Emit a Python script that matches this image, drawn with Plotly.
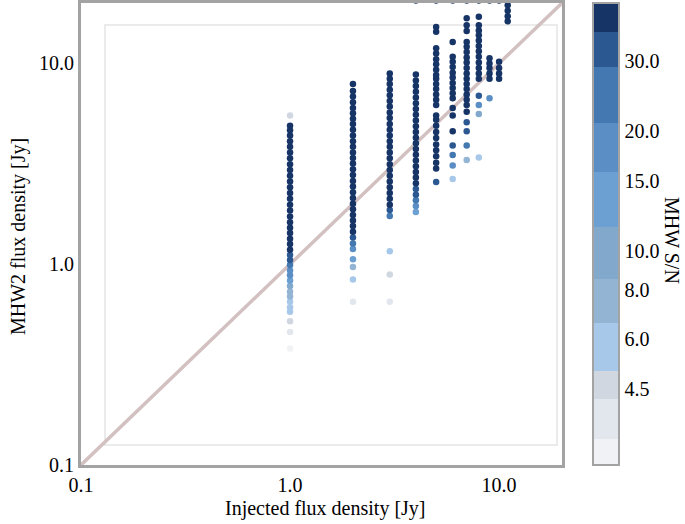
import numpy as np
import plotly.graph_objects as go

# ---------------- data ----------------
injected = [1.0, 2.0, 3.0, 4.0, 5.0, 6.0, 7.0, 8.0, 9.0, 10.0, 11.0]

flux_1 = [0.38, 0.46, 0.52, 0.58, 0.61, 0.65, 0.69, 0.73, 0.78, 0.83, 0.88, 0.93, 0.99,
          1.05, 1.11, 1.18, 1.26, 1.34, 1.43, 1.52, 1.62, 1.73, 1.85, 1.98, 2.12, 2.26,
          2.42, 2.58, 2.76, 2.95, 3.15, 3.37, 3.60, 3.85, 4.10, 4.38, 4.65, 4.90, 5.50]
snr_1 = [3.3, 4.0, 4.6, 5.4, 5.8, 6.4, 7.2, 8.2, 9.5, 12.0, 16.0, 20.0, 25.0,
         30.0, 34.0, 37.0, 39.0, 40.0, 41.0, 41.0, 40.0, 41.0, 41.0, 40.0, 41.0, 41.0,
         40.0, 41.0, 41.0, 40.0, 41.0, 41.0, 40.0, 41.0, 40.0, 40.0, 38.0, 36.0, 4.6]

flux_2 = [0.65, 0.84, 0.97, 1.06, 1.19, 1.27, 1.36, 1.45, 1.55, 1.65, 1.76, 1.88, 2.00,
          2.14, 2.28, 2.44, 2.60, 2.78, 2.97, 3.17, 3.38, 3.60, 3.85, 4.10, 4.38, 4.68,
          5.00, 5.30, 5.65, 6.00, 6.40, 6.85, 7.30, 7.90]
snr_2 = [4.2, 5.0, 7.0, 12.0, 20.0, 28.0, 34.0, 38.0, 40.0, 41.0, 40.0, 41.0, 41.0,
         40.0, 41.0, 40.0, 41.0, 41.0, 40.0, 41.0, 40.0, 41.0, 41.0, 40.0, 41.0, 40.0,
         39.0, 41.0, 40.0, 38.0, 41.0, 40.0, 39.0, 36.0]

flux_3 = [0.65, 0.89, 1.16, 1.74, 1.86, 1.98, 2.12, 2.26, 2.42, 2.58, 2.76, 2.95, 3.15,
          3.37, 3.60, 3.85, 4.10, 4.38, 4.68, 5.00, 5.35, 5.70, 6.10, 6.50, 6.95, 7.40,
          7.90, 8.40, 8.90]
snr_3 = [3.4, 4.4, 6.5, 24.0, 32.0, 37.0, 40.0, 41.0, 40.0, 41.0, 41.0, 40.0, 41.0,
         40.0, 41.0, 41.0, 40.0, 41.0, 40.0, 41.0, 41.0, 40.0, 41.0, 40.0, 41.0, 40.0,
         41.0, 39.0, 37.0]

flux_4 = [1.82, 1.95, 2.08, 2.22, 2.37, 2.53, 2.70, 2.88, 3.08, 3.29, 3.51, 3.75, 4.00,
          4.27, 4.56, 4.87, 5.20, 5.55, 5.93, 6.33, 6.76, 7.22, 7.71, 8.23, 8.80, 20.6]
snr_4 = [14.0, 19.0, 25.0, 30.0, 34.0, 37.0, 39.0, 40.0, 41.0, 40.0, 41.0, 41.0, 40.0,
         41.0, 40.0, 41.0, 41.0, 40.0, 41.0, 40.0, 41.0, 40.0, 41.0, 40.0, 38.0, 38.0]

flux_5 = [2.57, 3.00, 3.20, 3.45, 3.70, 3.95, 4.25, 4.55, 4.90, 5.25, 5.50, 6.20, 6.60,
          7.00, 7.45, 7.90, 8.40, 8.75, 9.30, 9.90, 10.50, 11.20, 11.90, 14.40, 15.20, 20.6]
snr_5 = [30.0, 36.0, 40.0, 41.0, 40.0, 41.0, 41.0, 40.0, 41.0, 40.0, 41.0, 40.0, 41.0,
         41.0, 40.0, 41.0, 40.0, 41.0, 41.0, 40.0, 41.0, 40.0, 41.0, 39.0, 38.0, 38.0]

flux_6 = [2.66, 3.10, 3.50, 3.90, 4.60, 5.50, 6.00, 6.70, 7.10, 7.55, 8.00, 8.50, 9.00,
          9.60, 10.20, 10.80, 12.80, 20.6]
snr_6 = [5.5, 18.0, 28.0, 34.0, 38.0, 40.0, 41.0, 41.0, 40.0, 41.0, 41.0, 40.0, 41.0,
         40.0, 41.0, 40.0, 38.0, 38.0]

flux_7 = [3.30, 3.90, 4.60, 5.10, 5.75, 6.20, 6.60, 7.00, 7.45, 7.90, 8.40, 8.90, 9.50,
          10.10, 10.70, 11.40, 12.10, 12.80, 14.50, 15.50, 16.80, 20.6]
snr_7 = [8.0, 22.0, 30.0, 35.0, 38.0, 40.0, 41.0, 40.0, 41.0, 41.0, 40.0, 41.0, 40.0,
         41.0, 41.0, 40.0, 41.0, 40.0, 39.0, 40.0, 37.0, 38.0]

flux_8 = [3.40, 5.60, 6.20, 6.90, 8.40, 8.90, 9.50, 10.10, 10.80, 11.50, 12.20, 13.00,
          13.80, 14.60, 15.50, 17.10, 20.6]
snr_8 = [6.0, 9.0, 20.0, 30.0, 40.0, 41.0, 40.0, 41.0, 41.0, 40.0, 41.0, 40.0,
         41.0, 40.0, 39.0, 37.0, 38.0]

flux_9 = [6.70, 8.40, 8.90, 9.50, 10.00, 10.60, 20.6]
snr_9 = [18.0, 38.0, 40.0, 41.0, 40.0, 38.0, 38.0]

flux_10 = [8.40, 8.90, 9.50, 10.20, 20.6]
snr_10 = [36.0, 40.0, 41.0, 38.0, 38.0]

flux_11 = [16.20, 17.20, 18.30, 19.50]
snr_11 = [36.0, 40.0, 41.0, 38.0]

one_to_one = [0.1, 20.0]

axis_ticks = [0.1, 1.0, 10.0]
axis_ticktext = ["0.1", "1.0", "10.0"]
snr_ticks = [4.5, 6.0, 8.0, 10.0, 15.0, 20.0, 30.0]
snr_ticktext = ["4.5", "6.0", "8.0", "10.0", "15.0", "20.0", "30.0"]
snr_min, snr_max = 2.9, 42.0

# ---------------- assemble ----------------
fluxes = [flux_1, flux_2, flux_3, flux_4, flux_5, flux_6, flux_7, flux_8, flux_9, flux_10, flux_11]
snrs = [snr_1, snr_2, snr_3, snr_4, snr_5, snr_6, snr_7, snr_8, snr_9, snr_10, snr_11]
xs, ys, cs = [], [], []
for inj, f, s in zip(injected, fluxes, snrs):
    xs += [inj] * len(f)
    ys += f
    cs += s
log_c = np.log10(cs)

# stepped colour scale (style)
band_edges = [2.9, 3.37, 4.25, 5.0, 6.6, 8.5, 11.5, 15.8, 21.0, 29.0, 35.5, 42.0]
band_cols = ['#f1f2f5', '#e2e6ed', '#d0d7e0', '#a7c8e8', '#93b5d3', '#82a8cb',
             '#6c9fd2', '#5a8ec4', '#4478b0', '#2c5892', '#163466']
lo, hi = np.log10(snr_min), np.log10(snr_max)
cscale = []
for i, col in enumerate(band_cols):
    a = (np.log10(band_edges[i]) - lo) / (hi - lo)
    b = (np.log10(band_edges[i + 1]) - lo) / (hi - lo)
    cscale.append([max(0.0, min(1.0, a)), col])
    cscale.append([max(0.0, min(1.0, b)), col])
cscale[0][0] = 0.0
cscale[-1][0] = 1.0

FONT = "Liberation Serif"
W, H = 685, 524
L, R, T, B = 81, 562, 3, 465  # plot area in px

def px_x(p):
    return (p - L) / (R - L)

def px_y(p):
    return (B - p) / (B - T)

fig = go.Figure()
fig.add_trace(go.Scatter(x=one_to_one, y=one_to_one, mode="lines",
                         line=dict(color="#d3c1c1", width=3.5),
                         showlegend=False, hoverinfo="skip"))
fig.add_trace(go.Scatter(
    x=xs, y=ys, mode="markers", showlegend=False,
    marker=dict(size=6.5, color=log_c, colorscale=cscale, cmin=lo, cmax=hi,
                line=dict(width=0),
                colorbar=dict(x=px_x(593), xanchor="left", xpad=0, ypad=0,
                              y=0.5, yanchor="middle", len=1.0, lenmode="fraction",
                              thickness=26, thicknessmode="pixels",
                              outlinecolor="#a3a3a3", outlinewidth=2,
                              tickvals=np.log10(snr_ticks).tolist(), ticktext=snr_ticktext,
                              ticks="", tickfont=dict(family=FONT, size=20, color="black"))),
))

axis_common = dict(type="log", range=[np.log10(0.1), np.log10(20.0)],
                   tickvals=axis_ticks, ticktext=axis_ticktext,
                   showgrid=False, zeroline=False, showline=True, mirror=True,
                   linecolor="#a3a3a3", linewidth=3, ticks="", automargin=False,
                   tickfont=dict(family=FONT, size=20, color="black"))

fig.update_layout(
    width=W, height=H,
    margin=dict(l=L, r=W - R, t=T, b=H - B, pad=0),
    paper_bgcolor="white", plot_bgcolor="white",
    xaxis=axis_common, yaxis=axis_common,
    font=dict(family=FONT, size=20, color="black"),
    shapes=[dict(type="rect", xref="paper", yref="paper",
                 x0=px_x(105), x1=px_x(557), y0=px_y(445), y1=px_y(25),
                 line=dict(color="#ebebeb", width=2), layer="below")],
    annotations=[
        dict(text="Injected flux density [Jy]", xref="paper", yref="paper",
             x=px_x(325), y=px_y(508), showarrow=False, xanchor="center", yanchor="middle",
             font=dict(family=FONT, size=20, color="black")),
        dict(text="MHW2 flux density [Jy]", xref="paper", yref="paper",
             x=px_x(18), y=px_y(237), showarrow=False, textangle=-90,
             xanchor="center", yanchor="middle",
             font=dict(family=FONT, size=20, color="black")),
        dict(text="MHW S/N", xref="paper", yref="paper",
             x=px_x(672), y=px_y(240), showarrow=False, textangle=90,
             xanchor="center", yanchor="middle",
             font=dict(family=FONT, size=20, color="black")),
    ],
)

fig.write_html("out.html", config={"displayModeBar": False},
               post_script="document.body.style.margin='0';document.body.style.padding='0';")
